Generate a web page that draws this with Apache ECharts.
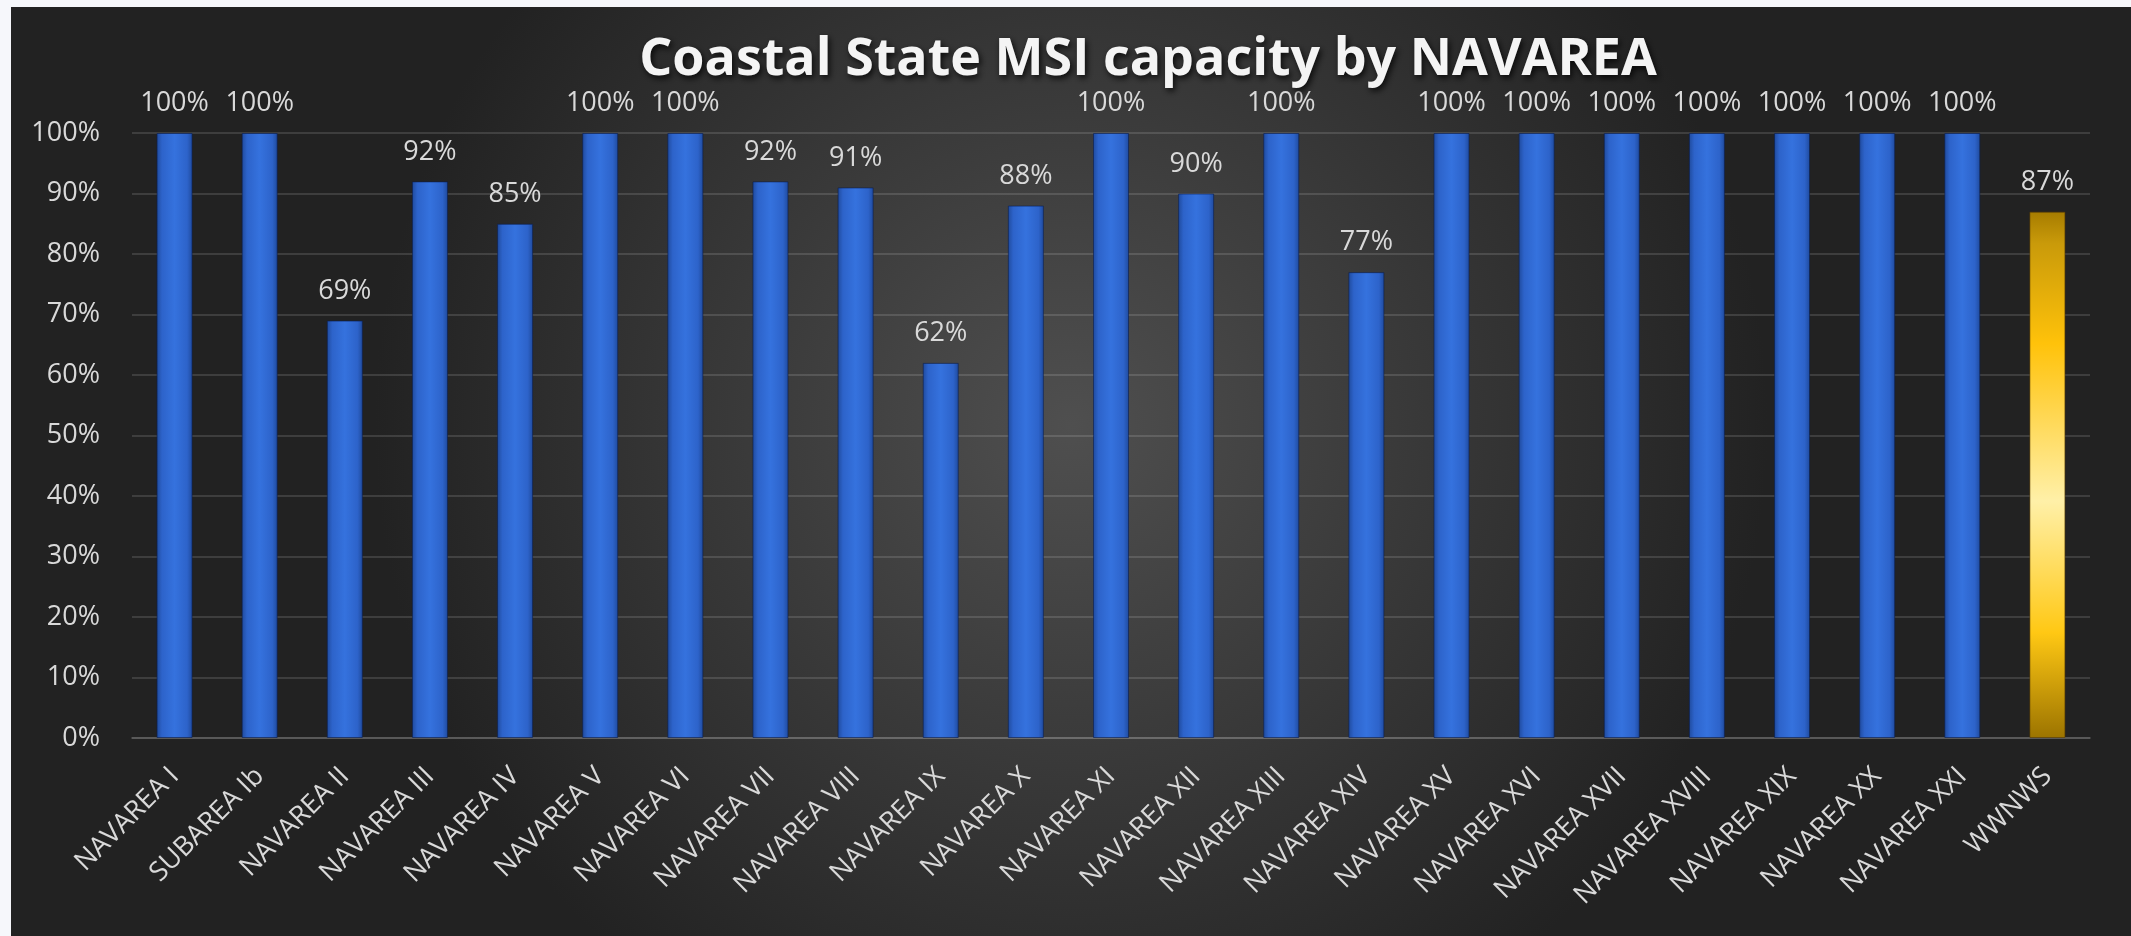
<!DOCTYPE html>
<html>
<head>
<meta charset="utf-8">
<script src="https://cdn.jsdelivr.net/npm/echarts@6/dist/echarts.min.js"></script>
<style>
html,body{margin:0;padding:0;width:2131px;height:936px;background:#f6f7fb;overflow:hidden;}
#chart{position:absolute;left:11px;top:7px;width:2120px;height:929px;}
</style>
</head>
<body>
<div id="chart"></div>
<script>
const titleText = 'Coastal State MSI capacity by NAVAREA';
const categories = ['NAVAREA I','SUBAREA Ib','NAVAREA II','NAVAREA III','NAVAREA IV','NAVAREA V','NAVAREA VI','NAVAREA VII','NAVAREA VIII','NAVAREA IX','NAVAREA X','NAVAREA XI','NAVAREA XII','NAVAREA XIII','NAVAREA XIV','NAVAREA XV','NAVAREA XVI','NAVAREA XVII','NAVAREA XVIII','NAVAREA XIX','NAVAREA XX','NAVAREA XXI','WWNWS'];
const capacity = [100,100,69,92,85,100,100,92,91,62,88,100,90,100,77,100,100,100,100,100,100,100,87];
const highlightCategory = 'WWNWS';
const yTicks = [0,10,20,30,40,50,60,70,80,90,100];

const blueFill = {type:'linear',x:0,y:0,x2:1,y2:0,colorStops:[
  {offset:0,color:'#1f4a9c'},{offset:0.15,color:'#2d63ca'},{offset:0.5,color:'#3572de'},{offset:0.85,color:'#2d63ca'},{offset:1,color:'#1f4a9c'}]};
const goldFill = {type:'linear',x:0,y:0,x2:0,y2:1,colorStops:[
  {offset:0,color:'#a67c00'},{offset:0.06,color:'#c99a0a'},{offset:0.25,color:'#ffc20a'},{offset:0.55,color:'#fff0a8'},{offset:0.8,color:'#ffc814'},{offset:1,color:'#9c7400'}]};

const chart = echarts.init(document.getElementById('chart'));
chart.setOption({
  backgroundColor:{type:'radial',x:0.5,y:0.45,r:0.75,colorStops:[{offset:0,color:'#4f4f4f'},{offset:1,color:'#222222'}]},
  title:{text:titleText,left:1132,top:22,textAlign:'center',
    textStyle:{color:'#f4f4f4',fontFamily:'Open Sans',fontWeight:'bold',fontSize:52,
      textShadowColor:'rgba(0,0,0,0.8)',textShadowBlur:6,textShadowOffsetX:2,textShadowOffsetY:3}},
  grid:{left:121,right:41,top:126,bottom:198,containLabel:false},
  xAxis:{type:'category',data:categories,
    axisLine:{show:true,lineStyle:{color:'rgba(255,255,255,0.14)',width:2}},
    axisTick:{show:false},
    axisLabel:{rotate:45,interval:0,margin:34,color:'#d9d9d9',fontFamily:'Open Sans',fontSize:27}},
  yAxis:{type:'value',min:yTicks[0],max:yTicks[yTicks.length-1],interval:10,
    axisLine:{show:false},axisTick:{show:false},
    splitLine:{lineStyle:{color:'rgba(255,255,255,0.13)',width:2}},
    axisLabel:{formatter:'{value}%',margin:32,color:'#d9d9d9',fontFamily:'Open Sans',fontSize:27}},
  series:[{type:'bar',barWidth:36,
    data:capacity.map((v,i)=>({value:v,itemStyle:{color: categories[i]===highlightCategory?goldFill:blueFill,
      borderColor: categories[i]===highlightCategory?'rgba(90,60,0,0.6)':'rgba(10,30,80,0.6)',borderWidth:1}})),
    label:{show:true,position:'top',distance:16,formatter:'{c}%',color:'#d9d9d9',fontFamily:'Open Sans',fontSize:27}}]
});
</script>
</body>
</html>
